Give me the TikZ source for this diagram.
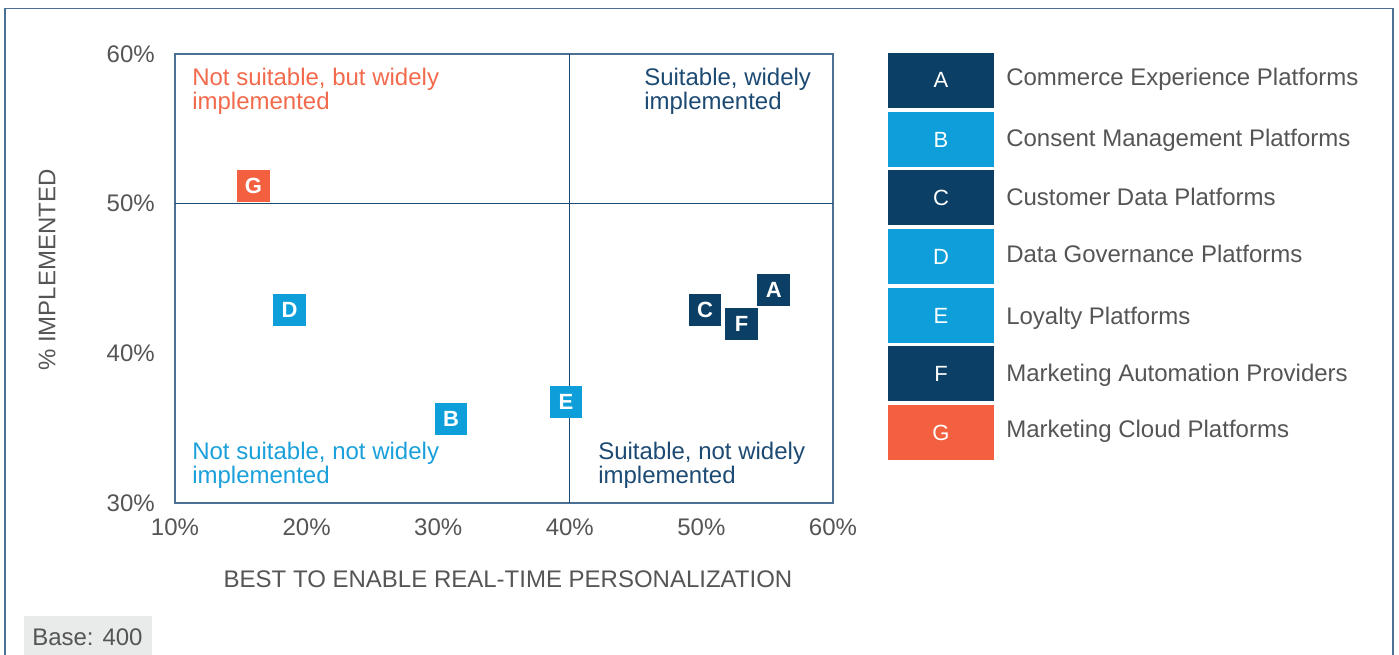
\documentclass[tikz,border=0pt]{standalone}
\usepackage{fontspec}
\setmainfont{Liberation Sans}
\definecolor{navy}{HTML}{0B3F66}
\definecolor{sky}{HTML}{0E9FDA}
\definecolor{coral}{HTML}{F2603F}
\definecolor{qnavy}{HTML}{1D4A73}
\definecolor{qsky}{HTML}{1AA0DA}
\definecolor{qcoral}{HTML}{F26A4B}
\definecolor{framecol}{HTML}{4A7094}
\definecolor{txt}{HTML}{555555}
\definecolor{basebg}{HTML}{E9EAEA}
\tikzset{
  lbl/.style={text=txt, inner sep=0pt, font=\fontsize{18}{20}\selectfont},
  quad/.style={inner sep=0pt, align=left, anchor=north west, font=\fontsize{18}{18}\selectfont},
  mk/.style={minimum width=24.5pt, minimum height=24pt, inner sep=0pt, text=white, font=\fontsize{16.5}{16}\selectfont\bfseries},
  legbox/.style={minimum width=79.5pt, minimum height=41.25pt, inner sep=0pt, text=white, font=\fontsize{16.5}{18}\selectfont},
  legtxt/.style={text=txt, inner sep=0pt, anchor=base west, font=\fontsize{18}{20}\selectfont}
}
\begin{document}
\begin{tikzpicture}[x=0.75pt,y=-0.75pt]
\useasboundingbox (0,0) rectangle (1399,654);
% outer frame
\draw[framecol, line width=1.4pt] (5,660) -- (5,8.5) -- (1393,8.5) -- (1393,660);
% base
\fill[basebg] (24,616) rectangle (152,660);
\node[lbl, anchor=west] (base) at (32,637) {Base: 400};
% plot frame and quadrant lines
\draw[framecol, line width=1pt] (175,54) rectangle (833,503);
\draw[qnavy, line width=1pt] (569.8,54) -- (569.8,503);
\draw[qnavy, line width=1pt] (175,203.7) -- (833,203.7);
% y ticks
\node[lbl, anchor=east] (y60) at (155,54) {60\%};
\node[lbl, anchor=east] (y50) at (155,203.7) {50\%};
\node[lbl, anchor=east] (y40) at (155,353.3) {40\%};
\node[lbl, anchor=east] (y30) at (155,503) {30\%};
% x ticks
\node[lbl] (x10) at (175,527) {10\%};
\node[lbl] (x20) at (306.6,527) {20\%};
\node[lbl] (x30) at (438.2,527) {30\%};
\node[lbl] (x40) at (569.8,527) {40\%};
\node[lbl] (x50) at (701.4,527) {50\%};
\node[lbl] (x60) at (833,527) {60\%};
% axis titles
\node[lbl, rotate=90] (ytitle) at (47,270) {\% IMPLEMENTED};
\node[lbl] (xtitle) at (508,579) {BEST TO ENABLE REAL-TIME PERSONALIZATION};
% quadrant labels
\node[quad, text=qcoral] (q1) at (192,68) {Not suitable, but widely\\implemented};
\node[quad, text=qnavy] (q2) at (644,68) {Suitable, widely\\implemented};
\node[quad, text=qsky] (q3) at (192,442) {Not suitable, not widely\\implemented};
\node[quad, text=qnavy] (q4) at (598,442) {Suitable, not widely\\implemented};
% markers
\node[mk, fill=coral] (mG) at (253.5,186) {G};
\node[mk, fill=sky] (mD) at (289.5,310) {D};
\node[mk, fill=sky] (mB) at (451,418.5) {B};
\node[mk, fill=sky] (mE) at (566,401.7) {E};
\node[mk, fill=navy] (mC) at (705,310) {C};
\node[mk, fill=navy] (mF) at (741.7,324) {F};
\node[mk, fill=navy] (mA) at (773.7,290) {A};
% legend
\node[legbox, fill=navy] (lA) at (941,80.2) {A};
\node[legbox, fill=sky]  (lB) at (941,139.5) {B};
\node[legbox, fill=navy] (lC) at (941,197.5) {C};
\node[legbox, fill=sky]  (lD) at (941,256.5) {D};
\node[legbox, fill=sky]  (lE) at (941,315.5) {E};
\node[legbox, fill=navy] (lF) at (941,373.5) {F};
\node[legbox, fill=coral] (lG) at (941,432.5) {G};
\node[legtxt] (tA) at (1006,85) {Commerce Experience Platforms};
\node[legtxt] (tB) at (1006,146) {Consent Management Platforms};
\node[legtxt] (tC) at (1006,205) {Customer Data Platforms};
\node[legtxt] (tD) at (1006,262) {Data Governance Platforms};
\node[legtxt] (tE) at (1006,324) {Loyalty Platforms};
\node[legtxt] (tF) at (1006,381) {Marketing Automation Providers};
\node[legtxt] (tG) at (1006,437) {Marketing Cloud Platforms};
\end{tikzpicture}
\end{document}
